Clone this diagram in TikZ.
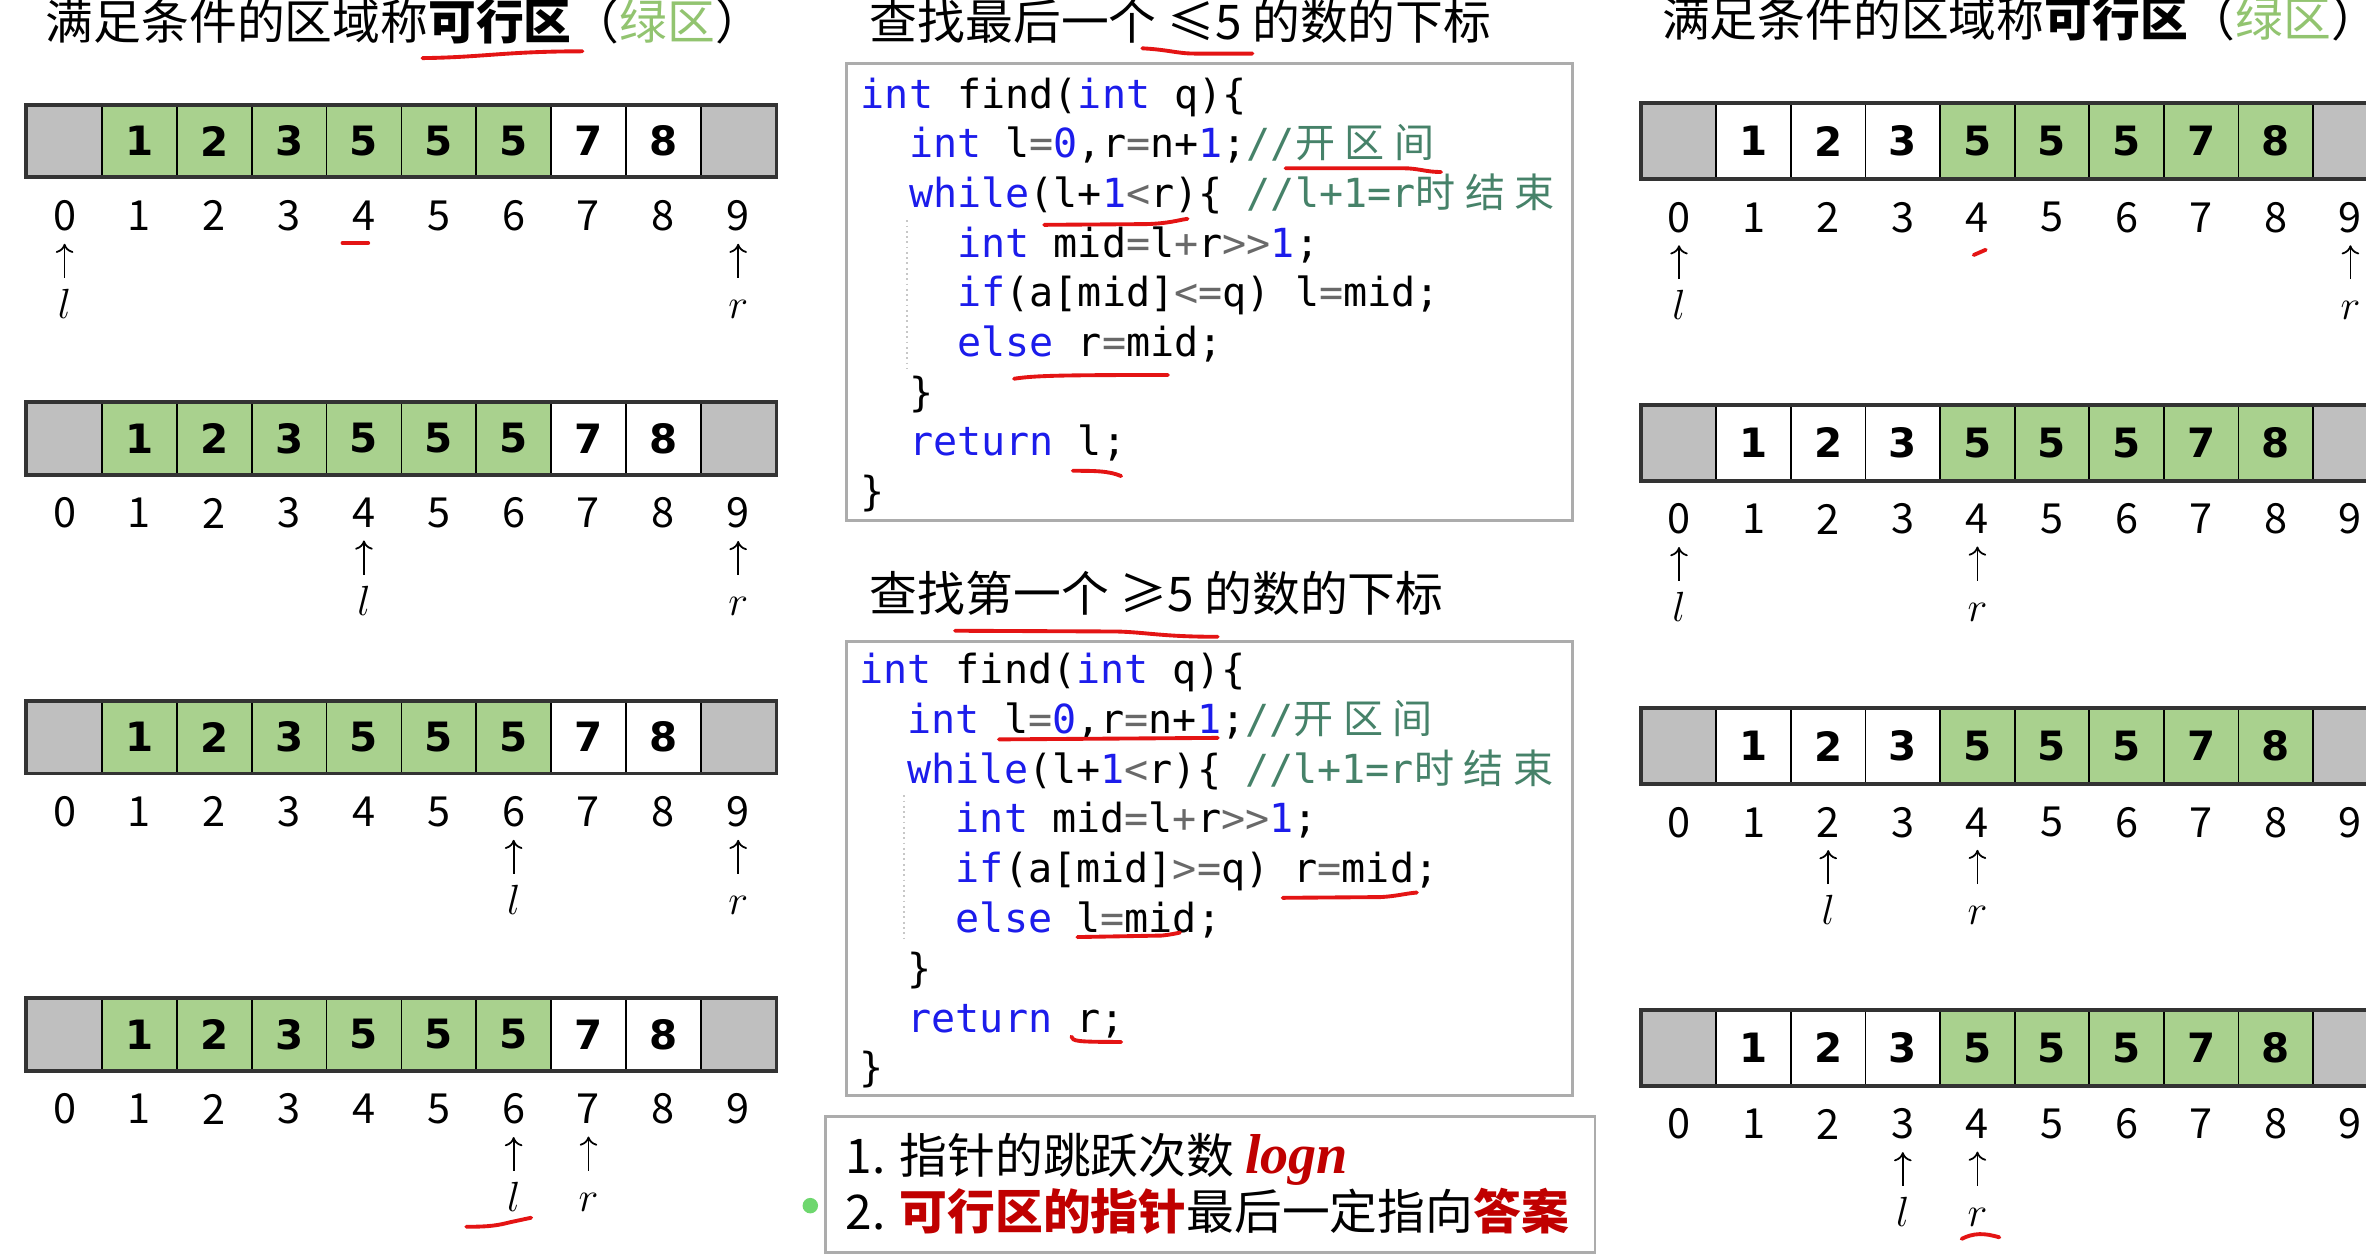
\documentclass[tikz,border=0pt]{standalone}
\usepackage{fontspec}
\usepackage{tikz}
\usetikzlibrary{arrows.meta, positioning, calc}
\setmonofont{DejaVu Sans Mono}
\newfontfamily\cjk{Noto Sans CJK SC}
\newfontfamily\cjkcode{Noto Sans CJK SC}[LetterSpace=24]
\newfontfamily\lserif{Liberation Serif}
\newfontfamily\cellfont{DejaVu Sans}
\definecolor{cellgreen}{RGB}{169,209,142}
\definecolor{cellgray}{RGB}{191,191,191}
\definecolor{zonegreen}{RGB}{146,196,112}
\definecolor{penred}{RGB}{228,20,20}
\definecolor{ansred}{RGB}{192,0,0}
\definecolor{kwblue}{RGB}{28,28,235}
\definecolor{cmtgreen}{RGB}{70,130,105}
\definecolor{opgray}{RGB}{105,105,105}
\definecolor{boxgray}{RGB}{172,172,172}
\definecolor{dotgreen}{RGB}{110,215,110}
\newcommand{\kwd}[1]{\textcolor{kwblue}{#1}}
\newcommand{\opr}[1]{\textcolor{opgray}{#1}}
\newcommand{\cmt}[1]{\textcolor{cmtgreen}{#1}}
\tikzset{
  cellbox/.style={rectangle, draw=black, line width=0.5pt, inner sep=0pt,
    minimum width=0.7485cm, minimum height=0.709cm,
    font=\cellfont\bfseries\fontsize{11.5pt}{12pt}\selectfont},
  rcellbox/.style={cellbox, minimum width=0.746cm, minimum height=0.739cm},
  rowframe/.style={draw=black!80, line width=1.1pt},
  idxnum/.style={inner sep=0pt, font=\cjk\fontsize{11.8pt}{12pt}\selectfont},
  ptrname/.style={inner sep=0pt, text height=9pt, text depth=0pt,
    font=\fontsize{13pt}{14pt}\selectfont},
  ptr/.style={-{To[length=2.6pt,width=5pt]}, line width=0.5pt,
    shorten <=2.4pt, shorten >=3.4pt},
  hdr/.style={inner sep=0pt, anchor=base west,
    font=\cjk\fontsize{13.6pt}{16pt}\selectfont},
  codebox/.style={draw=boxgray, line width=0.7pt},
  codeline/.style={inner sep=0pt, anchor=base west,
    font=\ttfamily\fontsize{11.4pt}{14pt}\selectfont},
  guide/.style={draw=black!22, densely dotted, line width=0.5pt},
  redstroke/.style={draw=penred, line width=1.1pt, line cap=round, line join=round}
}

\begin{document}
\begin{tikzpicture}[x=0.01509cm, y=-0.01509cm]
  \useasboundingbox (0,0) rectangle (1568,833);
  \clip (0,0) rectangle (1568,833);
  \fill[white] (0,0) rectangle (1568,833);

  \node[hdr] (titleL) at (30,26) {满足条件的区域称{\bfseries 可行区}（\textcolor{zonegreen}{绿区}）};
  \foreach \row/\ay/\lpos/\rpos in {1/93.5/0/9, 2/290.5/4/9, 3/488.5/6/9, 4/685.5/6/7}{
    \foreach \cx/\cv/\cf in {0/{}/cellgray, 1/1/cellgreen, 2/2/cellgreen, 3/3/cellgreen,
        4/5/cellgreen, 5/5/cellgreen, 6/5/cellgreen, 7/7/white, 8/8/white, 9/{}/cellgray}{
      \node[cellbox, fill=\cf] (L\row-\cx) at (42.8+49.6*\cx, \ay) {\cv};
      \node[idxnum] (LI\row-\cx) at (42.8+49.6*\cx, \ay+49.5) {\cx};
    }
    \draw[rowframe] (L\row-0.north west) rectangle (L\row-9.south east);
    \node[ptrname] (Ll\row) at (42.8+49.6*\lpos, \ay+107) {$l$};
    \node[ptrname] (Lr\row) at (42.8+49.6*\rpos, \ay+107) {$r$};
    \draw[ptr] (Ll\row) -- (LI\row-\lpos);
    \draw[ptr] (Lr\row) -- (LI\row-\rpos);
  }

  \node[hdr] (titleR) at (1101,24) {满足条件的区域称{\bfseries 可行区}（\textcolor{zonegreen}{绿区}）};
  \foreach \row/\ay/\lpos/\rpos in {1/93.5/0/9, 2/293.5/0/4, 3/494.5/2/4, 4/694.5/3/4}{
    \foreach \cx/\cv/\cf in {0/{}/cellgray, 1/1/white, 2/2/white, 3/3/white,
        4/5/cellgreen, 5/5/cellgreen, 6/5/cellgreen, 7/7/cellgreen, 8/8/cellgreen, 9/{}/cellgray}{
      \node[rcellbox, fill=\cf] (R\row-\cx) at (1112.7+49.44*\cx, \ay) {\cv};
      \node[idxnum] (RI\row-\cx) at (1112.7+49.44*\cx, \ay+50.5) {\cx};
    }
    \draw[rowframe] (R\row-0.north west) rectangle (R\row-9.south east);
    \node[ptrname] (Rl\row) at (1112.7+49.44*\lpos, \ay+108) {$l$};
    \node[ptrname] (Rr\row) at (1112.7+49.44*\rpos, \ay+108) {$r$};
    \draw[ptr] (Rl\row) -- (RI\row-\lpos);
    \draw[ptr] (Rr\row) -- (RI\row-\rpos);
  }

  \node[hdr] (titleA) at (576,26) {查找最后一个 ≤5 的数的下标};
  \draw[codebox] (561,42) rectangle (1042,345);
  \node[codeline] (a1) at (570,71.7) {\kwd{int} find(\kwd{int} q)\{};
  \node[codeline] (a2) at (602,104.6) {\kwd{int} l\opr{=}\kwd{0},r\opr{=}n+\kwd{1};\cmt{//{\cjkcode 开区间}}};
  \node[codeline] (a3) at (602,137.5) {\kwd{while}(l+\kwd{1}\opr{<}r)\{ \cmt{//l+1=r{\cjkcode 时结束}}};
  \node[codeline] (a4) at (634,170.4) {\kwd{int} mid\opr{=}l\opr{+}r\opr{>>}\kwd{1};};
  \node[codeline] (a5) at (634,203.3) {\kwd{if}(a[mid]\opr{<=}q) l\opr{=}mid;};
  \node[codeline] (a6) at (634,236.2) {\kwd{else} r\opr{=}mid;};
  \node[codeline] (a7) at (602,269.1) {\}};
  \node[codeline] (a8) at (602,302) {\kwd{return} l;};
  \node[codeline] (a9) at (570,334.9) {\}};
  \draw[guide] (601,146) -- (601,244);

  \node[hdr] (titleB) at (576,405) {查找第一个 ≥5 的数的下标};
  \draw[codebox] (561,425) rectangle (1042,726);
  \node[codeline] (b1) at (569,453) {\kwd{int} find(\kwd{int} q)\{};
  \node[codeline] (b2) at (601,486) {\kwd{int} l\opr{=}\kwd{0},r\opr{=}n+\kwd{1};\cmt{//{\cjkcode 开区间}}};
  \node[codeline] (b3) at (601,519) {\kwd{while}(l+\kwd{1}\opr{<}r)\{ \cmt{//l+1=r{\cjkcode 时结束}}};
  \node[codeline] (b4) at (633,552) {\kwd{int} mid\opr{=}l\opr{+}r\opr{>>}\kwd{1};};
  \node[codeline] (b5) at (633,585) {\kwd{if}(a[mid]\opr{>=}q) r\opr{=}mid;};
  \node[codeline] (b6) at (633,618) {\kwd{else} l\opr{=}mid;};
  \node[codeline] (b7) at (601,651) {\}};
  \node[codeline] (b8) at (601,684) {\kwd{return} r;};
  \node[codeline] (b9) at (569,717) {\}};
  \draw[guide] (599,527) -- (599,624);

  \draw[codebox] (547,740) rectangle (1057,830);
  \node[hdr] (note1) at (560,778) {1. 指针的跳跃次数 {\lserif\bfseries\itshape\fontsize{16pt}{16pt}\selectfont\color{ansred}logn}};
  \node[hdr] (note2) at (560,815) {2. {\bfseries\color{ansred}可行区的指针}最后一定指向{\bfseries\color{ansred}答案}};
  \fill[dotgreen] (537,799) circle (2.2pt);

  \draw[redstroke] (280,38.5) .. controls (320,38) and (335,34) .. (386,34);
  \draw[redstroke] (227,161) -- (244,161);
  \draw[redstroke] (1308,169) -- (1316,165.5);
  \draw[redstroke] (757,32) .. controls (775,33) and (780,35.5) .. (792,35.5) -- (830,35.5);
  \draw[redstroke] (852,111.5) -- (930,111.5) .. controls (940,111.5) and (945,114) .. (955,114);
  \draw[redstroke] (692,149) -- (760,148.5) .. controls (775,148) and (780,146) .. (787,145);
  \draw[redstroke] (672,251) .. controls (685,249) and (700,248.5) .. (774,248.5);
  \draw[redstroke] (711,312) .. controls (725,312) and (735,312) .. (743,315.5);
  \draw[redstroke] (633,418) -- (740,418.5) .. controls (760,419) and (770,422) .. (807,422);
  \draw[redstroke] (662,490) -- (807,489);
  \draw[redstroke] (850,595) -- (915,594.5) .. controls (925,594) and (932,592) .. (939,591.5);
  \draw[redstroke] (714,621) -- (770,620) .. controls (775,619.5) and (780,618.5) .. (782,618);
  \draw[redstroke] (710,687) .. controls (711,690) and (713,690.5) .. (743,690.5);
  \draw[redstroke] (309,813) .. controls (325,813) and (330,812) .. (338,810) -- (352,807);
  \draw[redstroke] (1300,821) .. controls (1308,817) and (1315,817) .. (1325,820);
\end{tikzpicture}
\end{document}
